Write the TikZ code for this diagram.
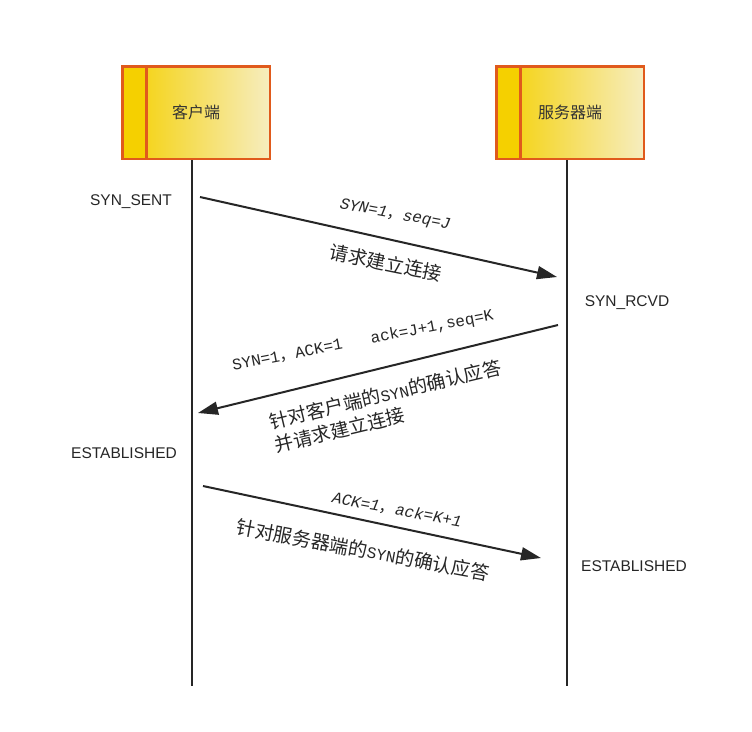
\documentclass[tikz,border=0pt]{standalone}
\usepackage{fontspec}
\setmainfont{Liberation Sans}
\setmonofont{Liberation Mono}
\newfontfamily\cjk{Noto Sans CJK SC}
\usetikzlibrary{arrows.meta, calc}
\definecolor{edge}{HTML}{E05A1C}
\definecolor{gold}{HTML}{F5D000}
\definecolor{cream}{HTML}{F6EDBF}
\definecolor{wire}{HTML}{262626}
\newcommand{\lat}[1]{{\ttfamily\fontsize{16}{19}\selectfont #1}}

\begin{document}
\begin{tikzpicture}[
  x=1pt, y=-1pt,
  host/.style={
    draw=edge, line width=2.5pt, minimum width=147.5pt, minimum height=92.5pt,
    left color=gold, right color=cream, text=black!80,
    font=\cjk\fontsize{16}{19}\selectfont,
    path picture={
      \fill[gold] (path picture bounding box.north west) rectangle
        ($(path picture bounding box.south west)+(24pt,0)$);
      \draw[edge, line width=2.5pt]
        ($(path picture bounding box.north west)+(24pt,0)$) --
        ($(path picture bounding box.south west)+(24pt,0)$);
    }
  },
  state/.style={font=\fontsize{15.5}{18}\selectfont, text=black!85, inner sep=0pt},
  life/.style ={draw=wire, line width=1.8pt},
  msg/.style  ={-{Triangle[length=20pt, width=13pt]}, draw=wire, line width=2pt},
  note/.style ={font=\ttfamily\fontsize{16}{19}\selectfont, text=black!85, inner sep=0pt},
  cn/.style   ={font=\cjk\fontsize{19}{24}\selectfont, text=black!85, inner sep=0pt, align=left}
]
\fill[white] (0,0) rectangle (752,731);
\useasboundingbox (0,0) rectangle (752,731);

\node[host] (client) at (196,112.5) {客户端};
\node[host] (server) at (570,112.5) {服务器端};

% lifelines
\coordinate (cbot) at (192,686);
\coordinate (sbot) at (567,686);
\draw[life] (client.south -| cbot) -- (cbot);
\draw[life] (server.south -| sbot) -- (sbot);

\coordinate (synA)    at (200,197);
\coordinate (synB)    at (557,277);
\coordinate (synackA) at (558,325);
\coordinate (synackB) at (198,413);
\coordinate (ackA)    at (203,486);
\coordinate (ackB)    at (541,558);

\draw[msg] (synA) -- (synB);
\draw[msg] (synackA) -- (synackB);
\draw[msg] (ackA) -- (ackB);

\node[note, rotate=-10.5] (synlbl)  at (395,215) {\textit{SYN=1}{\cjk ，}\textit{seq=J}};
\node[cn,   rotate=-11.5] (synmean) at (386,263) {请求建立连接};
\node[note, rotate=11]    (sallbl)  at (363,341) {SYN=1{\cjk ，}ACK=1~~~ack=J+1,seq=K};
\node[cn,   rotate=13.5]  (salmean) at (388,406) {针对客户端的\lat{SYN}的确认应答\\并请求建立连接};
\node[note, rotate=-10.5] (acklbl)  at (397,510) {\textit{ACK=1}{\cjk ，}\textit{ack=K+1}};
\node[cn,   rotate=-10.5] (ackmean) at (363,550) {针对服务器端的\lat{SYN}的确认应答};

\node[state] (sent)  at (131,202) {SYN\_SENT};
\node[state] (rcvd)  at (627,303) {SYN\_RCVD};
\node[state] (estc)  at (124,453) {ESTABLISHED};
\node[state] (ests)  at (634,566) {ESTABLISHED};
\end{tikzpicture}
\end{document}
